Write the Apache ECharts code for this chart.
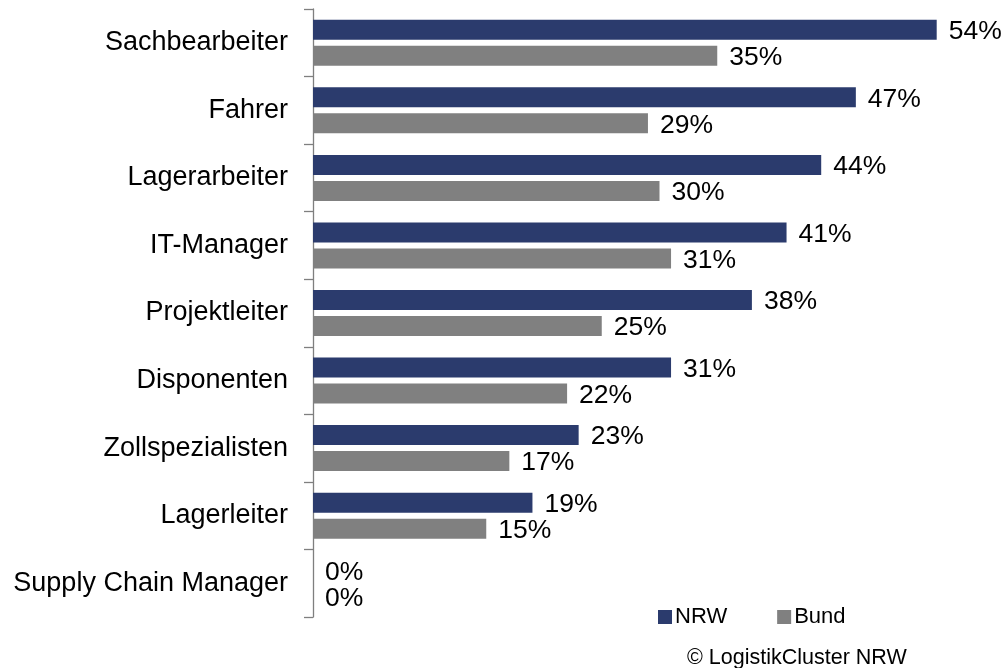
<!DOCTYPE html>
<html lang="de">
<head>
  <meta charset="UTF-8">
  <title>Berufsgruppen NRW / Bund</title>
  <script src="https://cdn.jsdelivr.net/npm/echarts@6/dist/echarts.min.js"></script>
  <style>
    html, body { margin: 0; padding: 0; background: #fff; }
    #chart { width: 1006px; height: 668px; }
  </style>
</head>
<body>
  <div id="chart"></div>

  <script>
    var categories = ['Sachbearbeiter', 'Fahrer', 'Lagerarbeiter', 'IT-Manager', 'Projektleiter',
                      'Disponenten', 'Zollspezialisten', 'Lagerleiter', 'Supply Chain Manager'];
    var nrwValues = [54, 47, 44, 41, 38, 31, 23, 19, 0];
    var bundValues = [35, 29, 30, 31, 25, 22, 17, 15, 0];

    var font = "'Liberation Sans', Arial, sans-serif";

    function barLabel() {
      return {
        show: true,
        position: 'right',
        distance: 12,
        offset: [0, 2],
        formatter: '{c}%',
        fontSize: 26.5,
        fontFamily: font,
        color: '#000'
      };
    }

    var chart = echarts.init(document.getElementById('chart'));
    chart.setOption({
      animation: false,
      title: {
        text: '© LogistikCluster NRW',
        left: 687,
        top: 647,
        padding: 0,
        textStyle: { fontSize: 21.5, fontWeight: 'normal', fontFamily: font, color: '#000' }
      },
      legend: {
        left: 658,
        top: 606,
        padding: 0,
        icon: 'rect',
        itemWidth: 14,
        itemHeight: 14,
        itemGap: 50,
        textStyle: { fontSize: 22, fontFamily: font, color: '#000', padding: [0, 0, 0, -2] },
        data: ['NRW', 'Bund']
      },
      grid: { left: 313, top: 9, width: 694, height: 608, containLabel: false },
      xAxis: {
        type: 'value',
        min: 0,
        max: 60,
        show: false
      },
      yAxis: {
        type: 'category',
        inverse: true,
        data: categories,
        axisLine: { show: true, lineStyle: { color: '#7f7f7f', width: 1.3 } },
        axisTick: { show: true, inside: false, length: 9, lineStyle: { color: '#7f7f7f', width: 1.3 } },
        axisLabel: { fontSize: 27, fontFamily: font, color: '#000', margin: 25 }
      },
      series: [
        {
          name: 'NRW',
          type: 'bar',
          data: nrwValues,
          barWidth: 20,
          barGap: '30%',
          itemStyle: { color: '#2b3b6d' },
          label: barLabel()
        },
        {
          name: 'Bund',
          type: 'bar',
          data: bundValues,
          barWidth: 20,
          itemStyle: { color: '#808080' },
          label: barLabel()
        }
      ]
    });
  </script>
</body>
</html>
